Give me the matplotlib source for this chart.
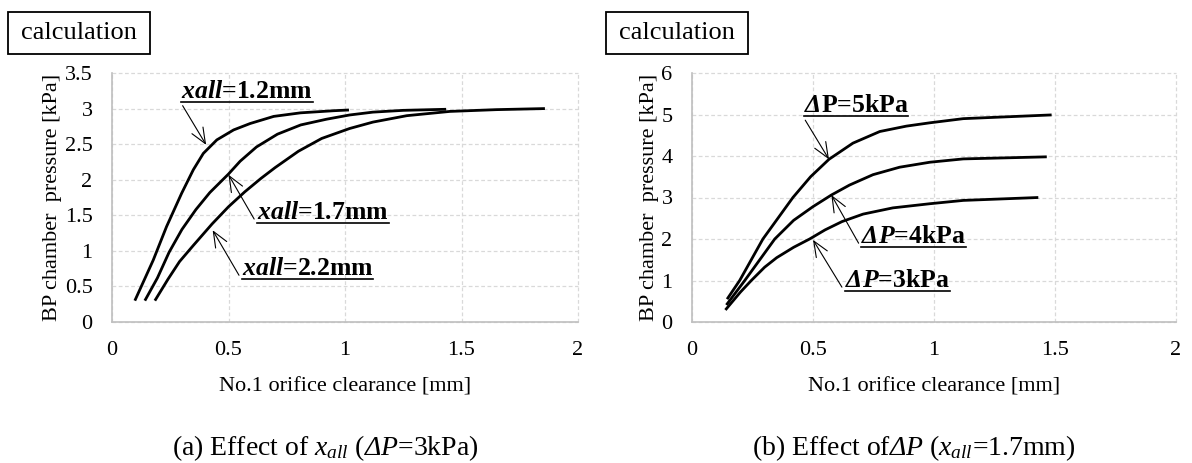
import matplotlib
matplotlib.use("Agg")
import matplotlib.pyplot as plt
from matplotlib.lines import Line2D
from matplotlib.patches import Rectangle
from matplotlib.text import Text

plt.rcParams['font.family'] = ['Liberation Serif', 'DejaVu Serif']
plt.rcParams['mathtext.fontset'] = 'custom'
plt.rcParams['mathtext.rm'] = 'Liberation Serif'
plt.rcParams['mathtext.it'] = 'Liberation Serif:italic'
plt.rcParams['mathtext.sf'] = 'Liberation Serif:italic'
plt.rcParams['mathtext.bf'] = 'Liberation Serif:bold:italic'

# ---------------- data: (a) effect of x_all ----------------
x_12 = [0.098, 0.177, 0.234, 0.299, 0.349, 0.392, 0.450, 0.522, 0.593, 0.694, 0.809, 0.953, 1.017]
y_12 = [0.30, 0.87, 1.34, 1.81, 2.14, 2.37, 2.56, 2.70, 2.79, 2.89, 2.94, 2.97, 2.98]

x_17 = [0.141, 0.195, 0.245, 0.30, 0.36, 0.42, 0.50, 0.55, 0.62, 0.71, 0.81, 0.92, 1.02, 1.12, 1.25, 1.434]
y_17 = [0.30, 0.62, 0.98, 1.30, 1.58, 1.82, 2.08, 2.26, 2.46, 2.64, 2.77, 2.85, 2.91, 2.95, 2.975, 2.99]

x_22 = [0.184, 0.24, 0.29, 0.35, 0.43, 0.50, 0.57, 0.64, 0.70, 0.80, 0.90, 1.02, 1.12, 1.265, 1.45, 1.65, 1.858]
y_22 = [0.30, 0.60, 0.85, 1.08, 1.38, 1.62, 1.83, 2.02, 2.17, 2.40, 2.58, 2.72, 2.81, 2.90, 2.96, 2.985, 3.00]

# ---------------- data: (b) effect of dP ----------------
x_5 = [0.145, 0.197, 0.245, 0.293, 0.355, 0.417, 0.49, 0.566, 0.665, 0.776, 0.886, 0.983, 1.121, 1.486]
y_5 = [0.55, 1.00, 1.50, 2.00, 2.50, 3.00, 3.50, 3.92, 4.31, 4.59, 4.72, 4.80, 4.90, 4.99]

x_4 = [0.142, 0.218, 0.28, 0.342, 0.42, 0.50, 0.576, 0.651, 0.748, 0.858, 0.983, 1.121, 1.466]
y_4 = [0.41, 1.00, 1.50, 2.00, 2.45, 2.78, 3.06, 3.30, 3.55, 3.73, 3.85, 3.93, 3.98]

x_3 = [0.138, 0.20, 0.245, 0.30, 0.35, 0.42, 0.486, 0.55, 0.62, 0.707, 0.83, 0.983, 1.121, 1.431]
y_3 = [0.29, 0.72, 1.00, 1.32, 1.55, 1.80, 2.00, 2.22, 2.42, 2.60, 2.75, 2.85, 2.93, 3.00]

x_ticks = [0, 0.5, 1, 1.5, 2]
x_tick_labels = ['0', '0.5', '1', '1.5', '2']
y_ticks_a = [0, 0.5, 1, 1.5, 2, 2.5, 3, 3.5]
y_tick_labels_a = ['0', '0.5', '1', '1.5', '2', '2.5', '3', '3.5']
y_ticks_b = [0, 1, 2, 3, 4, 5, 6]
y_tick_labels_b = ['0', '1', '2', '3', '4', '5', '6']

labels_a = [r'$\mathbf{xall}$=1.2mm', r'$\mathbf{xall}$=1.7mm', r'$\mathbf{xall}$=2.2mm']
labels_b = [r'$\mathbf{\Delta}$P=5kPa', r'$\mathbf{\Delta P}$=4kPa', r'$\mathbf{\Delta P}$=3kPa']

# annotation placement: (text start x, underline y, arrow tip x, arrow tip y)
ann_a = [(0.296, 3.08, 0.404, 2.49), (0.622, 1.38, 0.50, 2.07), (0.557, 0.59, 0.432, 1.29)]
ann_b = [(0.461, 4.93, 0.566, 3.92), (0.70, 1.78, 0.576, 3.06), (0.631, 0.73, 0.50, 1.98)]

caption_a = r'(a) Effect of $x_{all}$ ($\mathsf{\Delta P}$=3kPa)'
caption_b = r'(b) Effect of$\mathsf{\Delta P}$ ($x_{all}$=1.7mm)'

W, H = 1192, 463
fig = plt.figure(figsize=(W / 100, H / 100), dpi=100)

ax_a = fig.add_axes([112 / W, 1 - 322 / H, 466 / W, 249 / H])
ax_b = fig.add_axes([692 / W, 1 - 322 / H, 484 / W, 249 / H])

GRID = '#d9d9d9'
SPINE = '#bfbfbf'


def style(ax, yt, ytl, ymax):
    ax.set_xlim(0, 2)
    ax.set_ylim(0, ymax)
    ax.set_xticks(x_ticks)
    ax.set_xticklabels(x_tick_labels)
    ax.set_yticks(yt)
    ax.set_yticklabels(ytl)
    ax.tick_params(length=0, labelsize=16, pad=14)
    for s in ['top', 'right']:
        ax.spines[s].set_visible(False)
    for s in ['left', 'bottom']:
        ax.spines[s].set_color(SPINE)
        ax.spines[s].set_linewidth(1.2)
    ax.grid(True, color=GRID, linestyle=(0, (3, 2)), linewidth=0.9)
    ax.set_axisbelow(True)
    for gl in ax.get_xgridlines() + ax.get_ygridlines():
        gl.set_clip_on(False)
    ax.set_xlabel('No.1 orifice clearance [mm]', fontsize=16, labelpad=12)
    ax.set_ylabel('BP chamber  pressure [kPa]', fontsize=16, labelpad=2)


style(ax_a, y_ticks_a, y_tick_labels_a, 3.5)
style(ax_b, y_ticks_b, y_tick_labels_b, 6)

for xs, ys in [(x_12, y_12), (x_17, y_17), (x_22, y_22)]:
    ax_a.plot(xs, ys, color='black', lw=2.0, solid_capstyle='butt', solid_joinstyle='round')
for xs, ys in [(x_5, y_5), (x_4, y_4), (x_3, y_3)]:
    ax_b.plot(xs, ys, color='black', lw=2.0, solid_capstyle='butt', solid_joinstyle='round')

texts = []
for ax, labels, anns in [(ax_a, labels_a, ann_a), (ax_b, labels_b, ann_b)]:
    for lab, (tx, ty, px, py) in zip(labels, anns):
        t = ax.annotate(lab, xy=(px, py), xytext=(tx, ty), textcoords='data',
                        ha='left', va='bottom', fontsize=18.5, fontweight='bold',
                        arrowprops=dict(arrowstyle='->,head_length=0.6,head_width=0.25',
                                        color='black', lw=0.8, relpos=(0, 0),
                                        shrinkA=0, shrinkB=0))
        texts.append(t)

# "calculation" boxes
for x0 in [8, 606]:
    fig.add_artist(Rectangle((x0 / W, 1 - 54 / H), 142 / W, 42 / H, transform=fig.transFigure,
                             fill=False, edgecolor='black', lw=1.3))
    fig.text((x0 + 71) / W, 1 - 33 / H, 'calculation', ha='center', va='center', fontsize=19)

# captions
fig.text(325 / W, 1 - 448 / H, caption_a, ha='center', va='center', fontsize=20)
fig.text(914 / W, 1 - 448 / H, caption_b, ha='center', va='center', fontsize=20)

# underline the annotation labels (text extent only, not the arrow)
fig.canvas.draw()
renderer = fig.canvas.get_renderer()
inv = fig.transFigure.inverted()
for t in texts:
    bb = Text.get_window_extent(t, renderer)
    (x0, y0), (x1, _) = inv.transform([(bb.x0, bb.y0 + 1), (bb.x1, bb.y0 + 1)])
    fig.add_artist(Line2D([x0, x1], [y0, y0], transform=fig.transFigure, color='black', lw=1.2))

fig.savefig('out.png', dpi=100)
